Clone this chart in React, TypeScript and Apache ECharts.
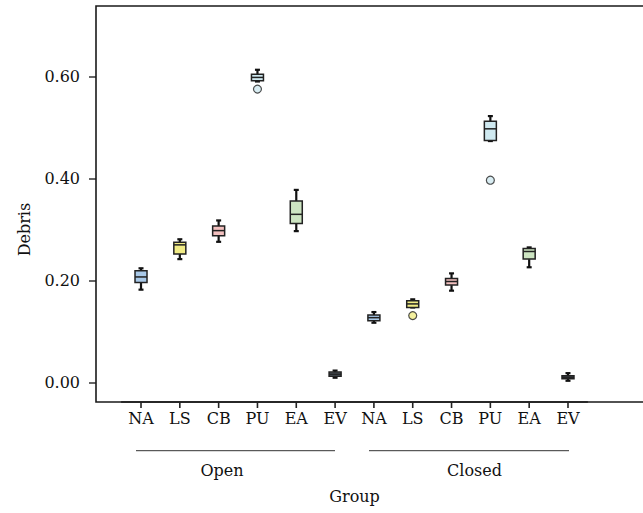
import React, { useEffect, useRef } from 'react';
import * as echarts from 'echarts';

const categories = ['NA', 'LS', 'CB', 'PU', 'EA', 'EV', 'NA', 'LS', 'CB', 'PU', 'EA', 'EV'];
const groupNames = ['Open', 'Closed'];
const whiskerLow = [0.182, 0.242, 0.276, 0.591, 0.297, 0.009, 0.117, 0.147, 0.18, 0.474, 0.226, 0.003];
const q1 = [0.196, 0.252, 0.288, 0.5925, 0.312, 0.012, 0.121, 0.147, 0.191, 0.475, 0.242, 0.007];
const median = [0.207, 0.27, 0.298, 0.599, 0.33, 0.016, 0.127, 0.154, 0.198, 0.498, 0.257, 0.01];
const q3 = [0.219, 0.275, 0.307, 0.605, 0.356, 0.02, 0.132, 0.16, 0.204, 0.513, 0.263, 0.013];
const whiskerHigh = [0.224, 0.281, 0.318, 0.614, 0.378, 0.023, 0.138, 0.163, 0.214, 0.523, 0.265, 0.018];
const outlierCategory = [3, 7, 9];
const outlierValue = [0.576, 0.131, 0.397];
const boxColors = ['#a9c9e8', '#f1ec86', '#f3c0bf', '#cfe9f0', '#cde5c2', '#56626e'];
const yTicks = [0, 0.2, 0.4, 0.6];

const FONT = '"DejaVu Serif", serif';
const FRAME_BOTTOM = 402;
const GRID_LEFT = 121.6;
const GRID_RIGHT = 55.6;
const WIDTH = 643;

export default function App() {
  const ref = useRef<HTMLDivElement>(null);
  useEffect(() => {
    if (!ref.current) return;
    const chart = echarts.init(ref.current, null, { renderer: 'svg' });
    const boxData = categories.map((_, i) => [i, whiskerLow[i], q1[i], median[i], q3[i], whiskerHigh[i]]);
    const outData = outlierCategory.map((c, k) => ({
      value: [c, outlierValue[k]],
      itemStyle: { color: boxColors[c % 6], borderColor: '#222', borderWidth: 1.2 },
    }));
    const stroke = '#1a1a1a';
    const baseGraphics: any[] = [
      { type: 'polyline', shape: { points: [[643, 6], [96, 6], [96, FRAME_BOTTOM], [643, FRAME_BOTTOM]] }, style: { stroke, lineWidth: 1.6, fill: 'none' }, z: 10 },
      { type: 'line', shape: { x1: 136, y1: 450.7, x2: 335, y2: 450.7 }, style: { stroke: '#333', lineWidth: 1 } },
      { type: 'line', shape: { x1: 369, y1: 450.7, x2: 569, y2: 450.7 }, style: { stroke: '#333', lineWidth: 1 } },
      { type: 'text', style: { text: groupNames[0], x: 222, y: 470, textAlign: 'center', verticalAlign: 'middle', font: '16px ' + FONT, fill: '#111' } },
      { type: 'text', style: { text: groupNames[1], x: 474.5, y: 470, textAlign: 'center', verticalAlign: 'middle', font: '16px ' + FONT, fill: '#111' } },
    ];
    chart.setOption({
      animation: false,
      backgroundColor: '#ffffff',
      grid: [
        { left: GRID_LEFT, right: GRID_RIGHT, top: 76.9, bottom: 130.7, containLabel: false, outerBoundsMode: 'none' },
        { left: GRID_LEFT, right: GRID_RIGHT, top: 6, bottom: 111, containLabel: false, outerBoundsMode: 'none' },
      ],
      xAxis: [
        { gridIndex: 0, type: 'category', data: categories, boundaryGap: true, show: false },
        {
          gridIndex: 1,
          type: 'category',
          data: categories,
          boundaryGap: true,
          axisLine: { show: true, onZero: false, lineStyle: { color: stroke, width: 1.6 } },
          axisTick: { show: false },
          axisLabel: { color: '#111', fontFamily: FONT, fontSize: 16, margin: 8, interval: 0 },
          splitLine: { show: false },
          name: 'Group',
          nameLocation: 'middle',
          nameGap: 86,
          nameTextStyle: { color: '#111', fontFamily: FONT, fontSize: 16 },
        },
      ],
      yAxis: [
        {
          gridIndex: 0,
          type: 'value',
          min: yTicks[0],
          max: yTicks[yTicks.length - 1],
          interval: 0.2,
          offset: 25.6,
          axisLine: { show: false },
          axisTick: { show: true, length: 7, lineStyle: { color: '#333', width: 1.5 } },
          axisLabel: { color: '#111', fontFamily: FONT, fontSize: 16, margin: 16, formatter: (v: number) => v.toFixed(2) },
          splitLine: { show: false },
          name: 'Debris',
          nameLocation: 'middle',
          nameRotate: 90,
          nameGap: 64,
          nameTextStyle: { color: '#111', fontFamily: FONT, fontSize: 16 },
        },
        { gridIndex: 1, type: 'value', min: 0, max: 1, show: false },
      ],
      graphic: baseGraphics,
      series: [
        {
          type: 'custom',
          xAxisIndex: 0,
          yAxisIndex: 0,
          data: boxData,
          encode: { x: 0, y: [1, 2, 3, 4, 5] },
          clip: false,
          renderItem: (params: any, api: any) => {
            const x = api.value(0);
            const lo = api.coord([x, api.value(1)]);
            const b1 = api.coord([x, api.value(2)]);
            const md = api.coord([x, api.value(3)]);
            const b3 = api.coord([x, api.value(4)]);
            const hi = api.coord([x, api.value(5)]);
            const cx = lo[0];
            const bw = 12;
            const cap = 2.5;
            const fill = boxColors[params.dataIndex % 6];
            const ls = { stroke: '#111', lineWidth: 2.2 };
            return {
              type: 'group',
              children: [
                { type: 'line', shape: { x1: cx, y1: hi[1], x2: cx, y2: b3[1] }, style: ls },
                { type: 'line', shape: { x1: cx, y1: b1[1], x2: cx, y2: lo[1] }, style: ls },
                { type: 'line', shape: { x1: cx - cap, y1: hi[1], x2: cx + cap, y2: hi[1] }, style: ls },
                { type: 'line', shape: { x1: cx - cap, y1: lo[1], x2: cx + cap, y2: lo[1] }, style: ls },
                { type: 'rect', shape: { x: cx - bw / 2, y: b3[1], width: bw, height: Math.max(b1[1] - b3[1], 1) }, style: { fill, stroke: '#222', lineWidth: 1.5 } },
                { type: 'line', shape: { x1: cx - bw / 2, y1: md[1], x2: cx + bw / 2, y2: md[1] }, style: { stroke: '#222', lineWidth: 1.5 } },
              ],
            };
          },
        },
        { type: 'scatter', xAxisIndex: 0, yAxisIndex: 0, data: outData, symbol: 'circle', symbolSize: 8 },
      ],
    });
    const band = (WIDTH - GRID_LEFT - GRID_RIGHT) / categories.length;
    const tickGraphics = categories.map((_, i) => {
      let px = Number(chart.convertToPixel({ xAxisIndex: 0 } as any, i as any));
      if (!isFinite(px)) px = GRID_LEFT + (i + 0.5) * band;
      return {
        type: 'line',
        shape: { x1: px, y1: FRAME_BOTTOM, x2: px, y2: FRAME_BOTTOM + 6 },
        style: { stroke: '#222', lineWidth: 1.6 },
        z: 11,
      };
    });
    chart.setOption({ graphic: [...baseGraphics, ...tickGraphics] });
    return () => chart.dispose();
  }, []);
  return <div ref={ref} style={{ position: 'absolute', left: 0, top: 0, width: 643, height: 513 }} />;
}
